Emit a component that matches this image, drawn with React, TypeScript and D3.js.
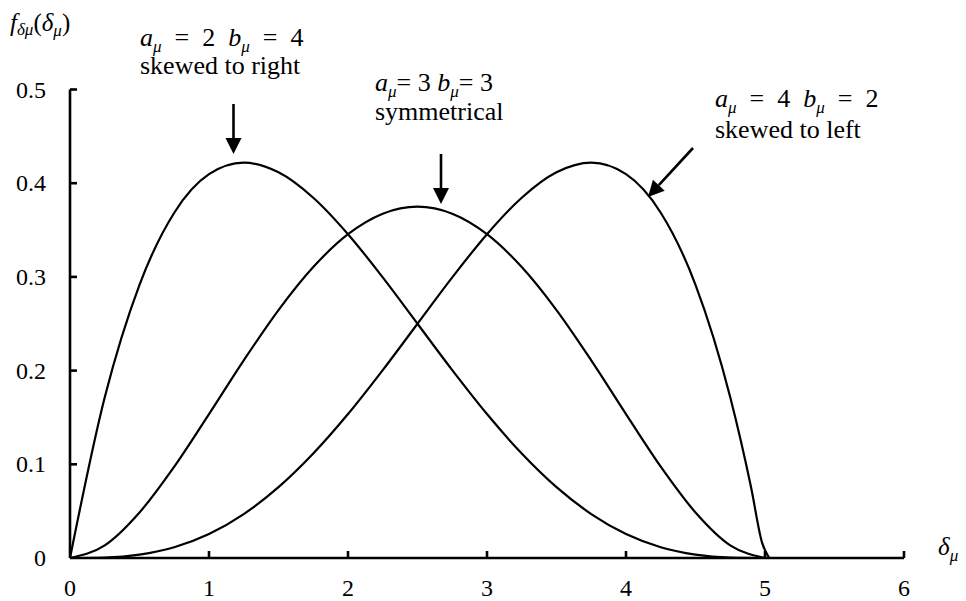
import React from "react";
import * as d3 from "d3";

// Density of the normalised deviation δμ on [0, 5] for three beta shapes
const deltaGrid = [0, 0.25, 0.5, 0.75, 1, 1.25, 1.5, 1.75, 2, 2.25, 2.5, 2.75, 3, 3.25, 3.5, 3.75, 4, 4.25, 4.5, 4.75, 5];
const skewedRight = [0, 0.1715, 0.2916, 0.3685, 0.4096, 0.4219, 0.4116, 0.3845, 0.3456, 0.2995, 0.25, 0.2005, 0.1536, 0.1115, 0.0756, 0.0469, 0.0256, 0.0115, 0.0036, 0.0005, 0];
const symmetrical = [0, 0.0135, 0.0486, 0.0975, 0.1536, 0.2109, 0.2646, 0.3105, 0.3456, 0.3675, 0.375, 0.3675, 0.3456, 0.3105, 0.2646, 0.2109, 0.1536, 0.0975, 0.0486, 0.0135, 0];
const skewedLeft = [0, 0.0005, 0.0036, 0.0115, 0.0256, 0.0469, 0.0756, 0.1115, 0.1536, 0.2005, 0.25, 0.2995, 0.3456, 0.3845, 0.4116, 0.4219, 0.4096, 0.3685, 0.2916, 0.1715];
const skewedLeftTailDelta = [4.9, 4.98, 5.03];
const skewedLeftTailDensity = [0.0753, 0.0158, 0];

const xTicks = [0, 1, 2, 3, 4, 5, 6];
const yTicks = [0, 0.1, 0.2, 0.3, 0.4, 0.5];
const yTickLabels = ["0", "0.1", "0.2", "0.3", "0.4", "0.5"];

const W = 966;
const H = 601;
const FONT = '"Liberation Serif", "Times New Roman", Times, serif';

export default function App() {
  const x = d3.scaleLinear().domain([0, 6]).range([70, 904]);
  const y = d3.scaleLinear().domain([0, 0.5]).range([558, 89.5]);

  const line = d3
    .line<[number, number]>()
    .x((d) => x(d[0]))
    .y((d) => y(d[1]))
    .curve(d3.curveMonotoneX);

  const rightPts: [number, number][] = deltaGrid.map((d, i) => [d, skewedRight[i]]);
  const symPts: [number, number][] = deltaGrid.map((d, i) => [d, symmetrical[i]]);
  const leftPts: [number, number][] = [
    ...skewedLeft.map((v, i) => [deltaGrid[i], v] as [number, number]),
    ...skewedLeftTailDelta.map((d, i) => [d, skewedLeftTailDensity[i]] as [number, number]),
  ];

  const arrow = (x1: number, y1: number, x2: number, y2: number, key: string) => {
    const ang = Math.atan2(y2 - y1, x2 - x1);
    const len = 16;
    const half = 8;
    const bx = x2 - len * Math.cos(ang);
    const by = y2 - len * Math.sin(ang);
    const px = -Math.sin(ang) * half;
    const py = Math.cos(ang) * half;
    return (
      <g key={key}>
        <line x1={x1} y1={y1} x2={bx} y2={by} stroke="#000" strokeWidth={2.6} />
        <path d={`M${x2},${y2}L${bx + px},${by + py}L${bx - px},${by - py}Z`} fill="#000" />
      </g>
    );
  };

  const subSize = 17;
  const txt = { fontFamily: FONT };

  return (
    <svg width={W} height={H} style={{ display: "block", position: "absolute", left: 0, top: 0, fontFamily: FONT }}>
      <rect width={W} height={H} fill="#fff" />

      {/* curves */}
      <g fill="none" stroke="#000" strokeWidth={2.2}>
        <path d={line(rightPts) ?? ""} />
        <path d={line(symPts) ?? ""} />
        <path d={line(leftPts) ?? ""} />
      </g>

      {/* axes */}
      <g stroke="#000" strokeWidth={2.6}>
        <line x1={x(0)} y1={y(0)} x2={x(6)} y2={y(0)} />
        <line x1={x(0)} y1={y(0)} x2={x(0)} y2={y(0.5)} />
        {xTicks.slice(1).map((t) => (
          <line key={"xt" + t} x1={x(t)} x2={x(t)} y1={y(0)} y2={y(0) - 7} />
        ))}
        {yTicks.slice(1).map((t) => (
          <line key={"yt" + t} x1={x(0)} x2={x(0) + 7} y1={y(t)} y2={y(t)} />
        ))}
      </g>

      {/* tick labels */}
      <g fontSize={24} fill="#000" style={txt}>
        {xTicks.map((t) => (
          <text key={"xl" + t} x={x(t)} y={596} textAnchor="middle">
            {t}
          </text>
        ))}
        {yTicks.map((t, i) => (
          <text key={"yl" + t} x={46} y={y(t) + 8} textAnchor="end">
            {yTickLabels[i]}
          </text>
        ))}
      </g>

      {/* axis titles */}
      <text x={10} y={31} fontSize={25} fill="#000" style={txt}>
        <tspan fontStyle="italic">f</tspan>
        <tspan fontStyle="italic" fontSize={subSize} dy={4}>δμ</tspan>
        <tspan dy={-4}>(</tspan>
        <tspan fontStyle="italic">δ</tspan>
        <tspan fontStyle="italic" fontSize={subSize} dy={5}>μ</tspan>
        <tspan dy={-5}>)</tspan>
      </text>
      <text x={938} y={555} fontSize={25} fill="#000" style={txt}>
        <tspan fontStyle="italic">δ</tspan>
        <tspan fontStyle="italic" fontSize={subSize} dy={6}>μ</tspan>
      </text>

      {/* annotations */}
      <g fontSize={26} fill="#000" style={txt}>
        <text x={140} y={46} xmlSpace="preserve">
          <tspan fontStyle="italic">a</tspan>
          <tspan fontStyle="italic" fontSize={subSize} dy={6}>μ</tspan>
          <tspan dy={-6}>{"  =  2  "}</tspan>
          <tspan fontStyle="italic">b</tspan>
          <tspan fontStyle="italic" fontSize={subSize} dy={6}>μ</tspan>
          <tspan dy={-6}>{"  =  4"}</tspan>
        </text>
        <text x={140} y={74}>skewed to right</text>

        <text x={375} y={91} xmlSpace="preserve">
          <tspan fontStyle="italic">a</tspan>
          <tspan fontStyle="italic" fontSize={subSize} dy={6}>μ</tspan>
          <tspan dy={-6}>{"= 3 "}</tspan>
          <tspan fontStyle="italic">b</tspan>
          <tspan fontStyle="italic" fontSize={subSize} dy={6}>μ</tspan>
          <tspan dy={-6}>{"= 3"}</tspan>
        </text>
        <text x={375} y={120}>symmetrical</text>

        <text x={715} y={107} xmlSpace="preserve">
          <tspan fontStyle="italic">a</tspan>
          <tspan fontStyle="italic" fontSize={subSize} dy={6}>μ</tspan>
          <tspan dy={-6}>{"  =  4  "}</tspan>
          <tspan fontStyle="italic">b</tspan>
          <tspan fontStyle="italic" fontSize={subSize} dy={6}>μ</tspan>
          <tspan dy={-6}>{"  =  2"}</tspan>
        </text>
        <text x={715} y={138}>skewed to left</text>
      </g>

      {/* pointers */}
      {arrow(233.5, 104, 233.5, 154, "a1")}
      {arrow(441, 154, 441, 204, "a2")}
      {arrow(693, 148, 648, 197, "a3")}
    </svg>
  );
}
